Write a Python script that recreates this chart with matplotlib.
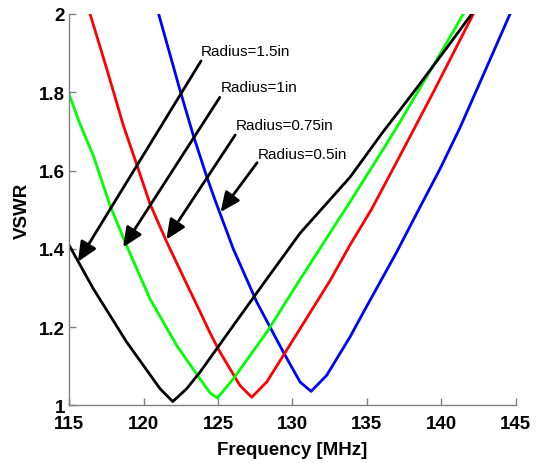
import matplotlib
matplotlib.use("Agg")
import matplotlib.pyplot as plt
from matplotlib.ticker import FormatStrFormatter

plt.rcParams["font.family"] = ["Liberation Sans", "DejaVu Sans"]

# VSWR sweeps for each loop radius (frequency in MHz)
freq_r15 = [115.0, 116.61, 118.85, 121.09, 121.95, 122.89, 123.78, 126.02, 128.27,
            130.51, 133.87, 136.11, 137.23, 138.36, 140.6, 142.05]
vswr_r15 = [1.408, 1.298, 1.162, 1.043, 1.010, 1.043, 1.085, 1.204, 1.323,
            1.44, 1.583, 1.700, 1.755, 1.811, 1.925, 2.0]

freq_r10 = [115.0, 115.71, 116.61, 117.73, 118.85, 120.42, 122.22, 123.78, 124.46, 124.95,
            126.02, 128.27, 130.51, 133.87, 136.11, 137.23, 138.36, 140.15, 141.49]
vswr_r10 = [1.793, 1.719, 1.638, 1.511, 1.408, 1.272, 1.153, 1.068, 1.032, 1.019,
            1.068, 1.187, 1.322, 1.52, 1.655, 1.724, 1.797, 1.912, 2.0]

freq_r075 = [116.39, 117.51, 118.63, 119.63, 120.42, 121.54, 122.89, 123.78, 124.46, 125.13,
             126.47, 127.26, 128.27, 130.51, 132.53, 133.87, 135.33, 137.23, 139.47, 142.16]
vswr_r075 = [2.0, 1.860, 1.715, 1.604, 1.515, 1.418, 1.31, 1.240, 1.185, 1.136,
             1.051, 1.021, 1.060, 1.196, 1.319, 1.41, 1.502, 1.638, 1.80, 2.0]

freq_r05 = [121.0, 122.44, 123.33, 124.23, 124.79, 126.02, 127.6, 129.39, 130.51, 131.25,
            132.3, 133.87, 134.77, 137.01, 138.58, 139.92, 141.27, 142.84, 144.63]
vswr_r05 = [2.0, 1.805, 1.69, 1.585, 1.525, 1.400, 1.264, 1.136, 1.060, 1.036,
            1.077, 1.175, 1.238, 1.392, 1.507, 1.604, 1.71, 1.845, 2.0]

# callouts: text, label anchor, arrow tail and arrow tip (data coords)
ann_text = ["Radius=1.5in", "Radius=1in", "Radius=0.75in", "Radius=0.5in"]
ann_label_xy = [(123.85, 1.905), (125.2, 1.813), (126.19, 1.717), (127.69, 1.642)]
ann_tail_xy = [(123.85, 1.880), (125.11, 1.787), (126.15, 1.691), (127.62, 1.620)]
ann_tip_xy = [(115.57, 1.367), (118.61, 1.404), (121.52, 1.424), (125.16, 1.494)]

fig = plt.figure(figsize=(5.36, 4.64), dpi=100)
ax = fig.add_axes([0.1295, 0.124, 0.8323, 0.8437])

lw = 2.0
ax.plot(freq_r05, vswr_r05, color="#0000FF", lw=lw)
ax.plot(freq_r075, vswr_r075, color="#FF0000", lw=lw)
ax.plot(freq_r10, vswr_r10, color="#00FF00", lw=lw)
ax.plot(freq_r15, vswr_r15, color="#000000", lw=lw)

for text, lab, tail, tip in zip(ann_text, ann_label_xy, ann_tail_xy, ann_tip_xy):
    ax.annotate("", xy=tip, xytext=tail,
                arrowprops=dict(arrowstyle="-|>,head_length=0.85,head_width=0.38",
                                color="black", lw=2.0, mutation_scale=14,
                                shrinkA=0, shrinkB=0))
    ax.text(lab[0], lab[1], text, ha="left", va="center", fontsize=11)

ax.set_xlim(115, 145)
ax.set_ylim(1, 2)
ax.set_xticks([115, 120, 125, 130, 135, 140, 145])
ax.set_yticks([1, 1.2, 1.4, 1.6, 1.8, 2])
ax.yaxis.set_major_formatter(FormatStrFormatter("%g"))

for side in ("top", "right"):
    ax.spines[side].set_visible(False)
for side in ("left", "bottom"):
    ax.spines[side].set_color("#808080")
    ax.spines[side].set_linewidth(1.0)

ax.tick_params(direction="in", length=5, width=1.0, color="#808080",
               labelsize=13.5)
ax.tick_params(axis="x", pad=7)
ax.tick_params(axis="y", pad=3)
for lbl in ax.get_xticklabels() + ax.get_yticklabels():
    lbl.set_fontweight("bold")

ax.set_xlabel("Frequency [MHz]", fontsize=13.5, fontweight="bold", labelpad=6)
ax.set_ylabel("VSWR", fontsize=13.5, fontweight="bold", labelpad=6)

fig.savefig("out.png", dpi=100)
